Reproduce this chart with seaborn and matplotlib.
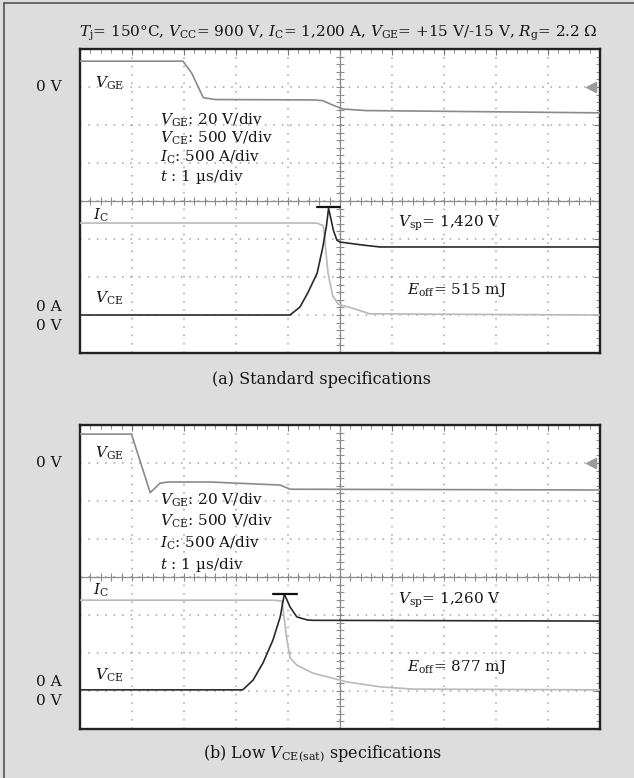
import numpy as np
import pandas as pd
import seaborn as sns
import matplotlib
matplotlib.use("Agg")
import matplotlib.pyplot as plt
from matplotlib.lines import Line2D

# ---------------- data (time in µs/div units, level in divisions) ----------------
# (a) Standard specifications
vge_a_t = [0, 1.98, 2.15, 2.37, 2.6, 4.5, 4.67, 4.85, 5.06, 5.5, 10]
vge_a_d = [7.68, 7.68, 7.36, 6.72, 6.67, 6.66, 6.64, 6.53, 6.42, 6.38, 6.32]
ic_a_t = [0, 4.55, 4.68, 4.77, 4.86, 4.97, 5.19, 5.58, 10]
ic_a_d = [3.42, 3.42, 3.35, 2.1, 1.5, 1.28, 1.2, 1.03, 1.0]
vce_a_t = [0, 4.04, 4.23, 4.38, 4.56, 4.67, 4.74, 4.78, 4.83, 4.87, 4.94, 5.0, 5.44, 5.77, 10]
vce_a_d = [1.0, 1.0, 1.21, 1.58, 2.1, 2.79, 3.35, 3.81, 3.5, 3.24, 2.97, 2.92, 2.84, 2.79, 2.79]
peak_a_t = [4.56, 5.0]
peak_a_d = 3.84

# (b) Low VCE(sat) specifications
vge_b_t = [0, 0.99, 1.35, 1.54, 1.7, 2.5, 3.85, 4.04, 10]
vge_b_d = [7.76, 7.76, 6.22, 6.47, 6.5, 6.5, 6.42, 6.31, 6.29]
ic_b_t = [0, 3.71, 3.88, 3.92, 3.98, 4.04, 4.17, 4.48, 5.13, 5.77, 6.4, 10]
ic_b_d = [3.39, 3.39, 3.37, 2.99, 2.34, 1.87, 1.68, 1.47, 1.24, 1.11, 1.05, 1.03]
vce_b_t = [0, 3.13, 3.33, 3.52, 3.71, 3.85, 3.93, 4.04, 4.17, 4.37, 4.48, 10]
vce_b_d = [1.03, 1.03, 1.29, 1.74, 2.34, 2.95, 3.55, 3.21, 2.95, 2.87, 2.86, 2.84]
peak_b_t = [3.71, 4.17]
peak_b_d = 3.55

title_text = (r"$T_\mathrm{j}$= 150°C, $V_\mathrm{CC}$= 900 V, $I_\mathrm{C}$= 1,200 A, "
              r"$V_\mathrm{GE}$= +15 V/-15 V, $R_\mathrm{g}$= 2.2 Ω")
spec_lines = [r"$V_\mathrm{GE}$: 20 V/div", r"$V_\mathrm{CE}$: 500 V/div",
              r"$I_\mathrm{C}$: 500 A/div", r"$t$ : 1 µs/div"]
vsp_a = r"$V_\mathrm{sp}$= 1,420 V"
eoff_a = r"$E_\mathrm{off}$= 515 mJ"
vsp_b = r"$V_\mathrm{sp}$= 1,260 V"
eoff_b = r"$E_\mathrm{off}$= 877 mJ"
cap_a = "(a) Standard specifications"
cap_b = r"(b) Low $V_\mathrm{CE(sat)}$ specifications"

# ---------------- style ----------------
sns.set_theme(style="white")
plt.rcParams["font.family"] = ["DejaVu Serif"]
plt.rcParams["mathtext.fontset"] = "dejavuserif"
plt.rcParams["text.color"] = "#161616"

BG = "#dcdddc"
W, H = 634, 778
fig = plt.figure(figsize=(W / 100, H / 100), dpi=100, facecolor=BG)

def fx(px):
    return px / W

def fy(py):
    return 1 - py / H

fig.add_artist(Line2D([fx(4), fx(4)], [0, fy(3)], color="#555555", lw=1.2))
fig.add_artist(Line2D([fx(4), 1], [fy(3), fy(3)], color="#555555", lw=1.2))

FS = 11
FS_CAP = 11.5

def make_axes(top_px):
    ax = fig.add_axes([fx(80), fy(top_px + 304), fx(520), 304 / H])
    ax.set_facecolor("white")
    ax.set_xlim(0, 10)
    ax.set_ylim(0, 8)
    ax.set_xticks(np.arange(0, 11, 1))
    ax.set_yticks(np.arange(0, 9, 1))
    ax.set_xticks(np.arange(0, 10.01, 0.2), minor=True)
    ax.set_yticks(np.arange(0, 8.01, 0.2), minor=True)
    ax.tick_params(which="both", direction="in", top=True, right=True,
                   labelbottom=False, labelleft=False, color="#777777")
    ax.tick_params(which="major", length=4, width=0.8)
    ax.tick_params(which="minor", length=3, width=0.6)
    ax.grid(True, which="major", color="#a0a0a0", linestyle=(0, (1, 4.5)), lw=1.1)
    for s in ax.spines.values():
        s.set_color("#222222")
        s.set_linewidth(1.7)
    # center crosshair with ticks
    ax.axvline(5, color="#8c8c8c", lw=0.9, zorder=1)
    ax.axhline(4, color="#8c8c8c", lw=0.9, zorder=1)
    ax.plot(np.full(41, 5.0), np.arange(0, 8.01, 0.2), ls="none", marker="_",
            ms=6, mew=0.8, color="#8c8c8c", zorder=1)
    ax.plot(np.arange(0, 10.01, 0.2), np.full(51, 4.0), ls="none", marker="|",
            ms=6, mew=0.8, color="#8c8c8c", zorder=1)
    # ground reference marker for VGE
    ax.plot([9.82], [7.0], marker="<", ms=7, color="#9a9a9a", ls="none", clip_on=False)
    return ax

def trace(ax, t, d, color, lw=1.2, z=3):
    df = pd.DataFrame({"t": t, "d": d})
    sns.lineplot(data=df, x="t", y="d", ax=ax, color=color, lw=lw,
                 estimator=None, sort=False, zorder=z)
    ax.set_xlabel("")
    ax.set_ylabel("")

# ---------------- panel (a) ----------------
ax_a = make_axes(49)
trace(ax_a, vge_a_t, vge_a_d, "#8a8a8a")
trace(ax_a, ic_a_t, ic_a_d, "#b9b9b9")
trace(ax_a, vce_a_t, vce_a_d, "#2a2a2a", z=4)
ax_a.plot(peak_a_t, [peak_a_d, peak_a_d], color="#111111", lw=1.6, zorder=5)

ax_a.text(0.29, 7.1, r"$V_\mathrm{GE}$", fontsize=FS, va="center", ha="left")
ax_a.text(0.25, 3.63, r"$I_\mathrm{C}$", fontsize=FS, va="center", ha="left")
ax_a.text(0.29, 1.45, r"$V_\mathrm{CE}$", fontsize=FS, va="center", ha="left")
for s, yy in zip(spec_lines, [6.13, 5.66, 5.16, 4.63]):
    ax_a.text(1.54, yy, s, fontsize=FS, va="center", ha="left")
ax_a.text(6.12, 3.42, vsp_a, fontsize=FS, va="center", ha="left")
ax_a.text(6.29, 1.66, eoff_a, fontsize=FS, va="center", ha="left")
ax_a.text(-0.35, 7.0, "0 V", fontsize=FS, va="center", ha="right", clip_on=False)
ax_a.text(-0.35, 1.22, "0 A", fontsize=FS, va="center", ha="right", clip_on=False)
ax_a.text(-0.35, 0.7, "0 V", fontsize=FS, va="center", ha="right", clip_on=False)

# ---------------- panel (b) ----------------
ax_b = make_axes(425)
trace(ax_b, vge_b_t, vge_b_d, "#8a8a8a")
trace(ax_b, ic_b_t, ic_b_d, "#b9b9b9")
trace(ax_b, vce_b_t, vce_b_d, "#2a2a2a", z=4)
ax_b.plot(peak_b_t, [peak_b_d, peak_b_d], color="#111111", lw=1.6, zorder=5)

ax_b.text(0.29, 7.26, r"$V_\mathrm{GE}$", fontsize=FS, va="center", ha="left")
ax_b.text(0.25, 3.66, r"$I_\mathrm{C}$", fontsize=FS, va="center", ha="left")
ax_b.text(0.29, 1.42, r"$V_\mathrm{CE}$", fontsize=FS, va="center", ha="left")
for s, yy in zip(spec_lines, [6.03, 5.46, 4.89, 4.32]):
    ax_b.text(1.54, yy, s, fontsize=FS, va="center", ha="left")
ax_b.text(6.12, 3.39, vsp_b, fontsize=FS, va="center", ha="left")
ax_b.text(6.29, 1.63, eoff_b, fontsize=FS, va="center", ha="left")
ax_b.text(-0.35, 7.0, "0 V", fontsize=FS, va="center", ha="right", clip_on=False)
ax_b.text(-0.35, 1.25, "0 A", fontsize=FS, va="center", ha="right", clip_on=False)
ax_b.text(-0.35, 0.73, "0 V", fontsize=FS, va="center", ha="right", clip_on=False)

# ---------------- titles / captions ----------------
fig.text(fx(338), fy(33), title_text, fontsize=FS, ha="center", va="center")
fig.text(fx(322), fy(380), cap_a, fontsize=FS_CAP, ha="center", va="center")
fig.text(fx(322), fy(754), cap_b, fontsize=FS_CAP, ha="center", va="center")

fig.savefig("out.png", dpi=100, facecolor=BG)
